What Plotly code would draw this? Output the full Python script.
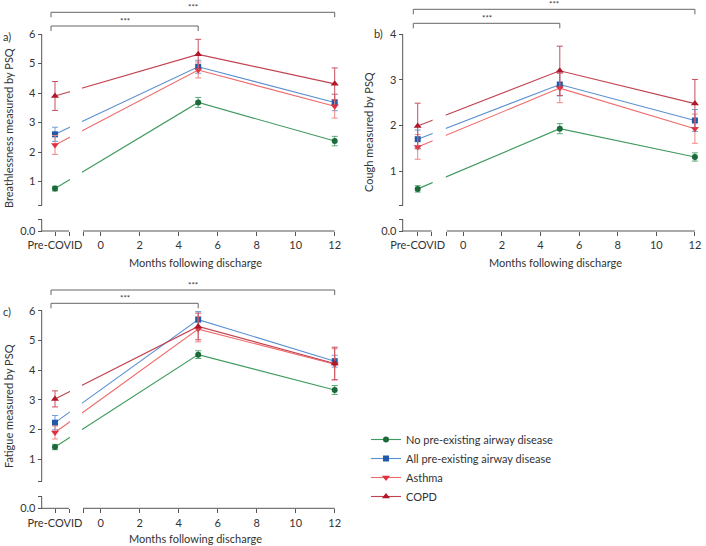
import plotly.graph_objects as go

W, H = 706, 546

# ---- data (mean +/- error) ----
groups = ["No pre-existing airway disease", "All pre-existing airway disease", "Asthma", "COPD"]
timepoints = ["Pre-COVID", 5, 12]

breath = {
    "No pre-existing airway disease": [0.76, 3.68, 2.37],
    "All pre-existing airway disease": [2.60, 4.89, 3.68],
    "Asthma": [2.24, 4.78, 3.55],
    "COPD": [3.90, 5.31, 4.31],
}
breath_err = {
    "No pre-existing airway disease": [0.08, 0.17, 0.16],
    "All pre-existing airway disease": [0.24, 0.22, 0.28],
    "Asthma": [0.32, 0.27, 0.40],
    "COPD": [0.49, 0.51, 0.54],
}
cough = {
    "No pre-existing airway disease": [0.61, 1.93, 1.31],
    "All pre-existing airway disease": [1.70, 2.90, 2.11],
    "Asthma": [1.53, 2.82, 1.93],
    "COPD": [1.99, 3.20, 2.48],
}
cough_err = {
    "No pre-existing airway disease": [0.07, 0.11, 0.09],
    "All pre-existing airway disease": [0.20, 0.25, 0.24],
    "Asthma": [0.27, 0.32, 0.32],
    "COPD": [0.50, 0.54, 0.53],
}
fatigue = {
    "No pre-existing airway disease": [1.41, 4.52, 3.33],
    "All pre-existing airway disease": [2.23, 5.70, 4.30],
    "Asthma": [1.90, 5.38, 4.20],
    "COPD": [3.03, 5.47, 4.22],
}
fatigue_err = {
    "No pre-existing airway disease": [0.09, 0.13, 0.15],
    "All pre-existing airway disease": [0.24, 0.27, 0.20],
    "Asthma": [0.22, 0.43, 0.52],
    "COPD": [0.27, 0.45, 0.55],
}

month_ticks = [0, 2, 4, 6, 8, 10, 12]

# ---- styles ----
style = {
    "No pre-existing airway disease": dict(mk="#1b6b3a", ln="#3f9a5e", er="#5aa878", sym="circle", size=6),
    "All pre-existing airway disease": dict(mk="#1f5ba8", ln="#5a8fd2", er="#6b9ed8", sym="square", size=6),
    "Asthma": dict(mk="#e0303f", ln="#f06a6a", er="#f08585", sym="triangle-down", size=7),
    "COPD": dict(mk="#b0182a", ln="#c24350", er="#c85060", sym="triangle-up", size=7),
}
AX = "#555555"
TXT = "#333333"
FONT = "Lato"


def xp(px):
    return px / W


def yp(py):
    return 1 - py / H


# pixel geometry of each panel
panels = [
    dict(name="a", data=breath, err=breath_err, title="Breathlessness measured by PSQ",
         x0=100.7, xs=19.5, pre_px=55, yaxis_px=41.7, pre_end=69, main_start=83, dom_x=(30, 345),
         yref=6, yref_px=34, ys=29.5, xaxis_px=231, ymain_px=205.3, ylow_px=219.3, dom_y=(240, 25),
         ymax=6, yt=[1, 2, 3, 4, 5, 6],
         br_out=12.3, br_in=26, br_l=51, label=(1, 37), ytitle=(8, 128), xtitle=(195, 262)),
    dict(name="b", data=cough, err=cough_err, title="Cough measured by PSQ",
         x0=463.3, xs=19.3, pre_px=417.7, yaxis_px=402.7, pre_end=431.7, main_start=446.7, dom_x=(390, 705),
         yref=4, yref_px=34.3, ys=45.6, xaxis_px=231, ymain_px=205.3, ylow_px=219.3, dom_y=(240, 25),
         ymax=4, yt=[1, 2, 3, 4],
         br_out=9.3, br_in=23.3, br_l=413.3, label=(372, 33), ytitle=(368, 132), xtitle=(555, 262)),
    dict(name="c", data=fatigue, err=fatigue_err, title="Fatigue measured by PSQ",
         x0=100.7, xs=19.5, pre_px=55, yaxis_px=41.7, pre_end=69, main_start=83, dom_x=(30, 345),
         yref=6, yref_px=310.7, ys=29.7, xaxis_px=508.3, ymain_px=481, ylow_px=496.7, dom_y=(517, 300),
         ymax=6, yt=[1, 2, 3, 4, 5, 6],
         br_out=290, br_in=303.3, br_l=51, label=(1, 311), ytitle=(8, 406), xtitle=(195, 538)),
]

fig = go.Figure()
shapes = []
annotations = []
layout = {}


def note(text, x, y, size=11, **kw):
    annotations.append(dict(text=text, x=xp(x), y=yp(y), xref="paper", yref="paper",
                            xanchor=kw.pop("xanchor", "center"), yanchor="middle",
                            showarrow=False, font=dict(size=size, color=TXT, family=FONT), **kw))


for i, p in enumerate(panels):
    sfx = "" if i == 0 else str(i + 1)
    xa, ya = "x" + sfx, "y" + sfx

    def mx(px, p=p):
        return (px - p["x0"]) / p["xs"]

    def vy(py, p=p):
        return p["yref"] - (py - p["yref_px"]) / p["ys"]

    pre_x = mx(p["pre_px"])
    xpos = [pre_x if t == "Pre-COVID" else t for t in timepoints]

    for g in groups:
        s = style[g]
        fig.add_trace(go.Scatter(
            x=xpos, y=p["data"][g], xaxis=xa, yaxis=ya,
            mode="lines+markers", name=g, showlegend=(i == 0),
            line=dict(color=s["ln"], width=1.1),
            marker=dict(symbol=s["sym"], size=s["size"], color=s["mk"]),
            error_y=dict(type="data", array=p["err"][g], color=s["er"], thickness=1, width=3),
            cliponaxis=False,
        ))

    y_axis_x = mx(p["yaxis_px"])
    x_axis_y = vy(p["xaxis_px"])
    y_main_lo = vy(p["ymain_px"])
    y_low_hi = vy(p["ylow_px"])
    pre_end = mx(p["pre_end"])
    main_start = mx(p["main_start"])

    layout["xaxis" + sfx] = dict(
        domain=[xp(p["dom_x"][0]), xp(p["dom_x"][1])],
        range=[mx(p["dom_x"][0]), mx(p["dom_x"][1])],
        anchor="free", position=yp(p["xaxis_px"]), automargin=False,
        showline=False, showgrid=False, zeroline=False,
        tickmode="array",
        tickvals=[pre_x, pre_end, main_start] + month_ticks,
        ticktext=["Pre-COVID", "", ""] + [str(t) for t in month_ticks],
        ticks="outside", ticklen=4, tickcolor=AX, tickwidth=1,
        tickfont=dict(size=11, color=TXT, family=FONT),
    )
    layout["yaxis" + sfx] = dict(
        domain=[yp(p["dom_y"][0]), yp(p["dom_y"][1])],
        range=[vy(p["dom_y"][0]), vy(p["dom_y"][1])],
        anchor="free", position=xp(p["yaxis_px"]), automargin=False,
        showline=False, showgrid=False, zeroline=False,
        tickmode="array",
        tickvals=[x_axis_y, y_low_hi, y_main_lo] + p["yt"],
        ticktext=["0.0", "", ""] + [str(t) for t in p["yt"]],
        ticks="outside", ticklen=4, tickcolor=AX, tickwidth=1,
        tickfont=dict(size=11, color=TXT, family=FONT),
    )

    # mask the lines in the x-axis break
    shapes.append(dict(type="rect", xref=xa, yref=ya, x0=pre_end + 0.05, x1=main_start - 0.05,
                       y0=y_main_lo, y1=p["ymax"], fillcolor="white", line=dict(width=0), layer="above"))
    # broken axis lines
    for (x0, y0, x1, y1) in [
        (y_axis_x, x_axis_y, pre_end, x_axis_y),
        (main_start, x_axis_y, 12, x_axis_y),
        (y_axis_x, x_axis_y, y_axis_x, y_low_hi),
        (y_axis_x, y_main_lo, y_axis_x, p["ymax"]),
    ]:
        shapes.append(dict(type="line", xref=xa, yref=ya, x0=x0, y0=y0, x1=x1, y1=y1,
                           line=dict(color=AX, width=1)))

    # significance brackets
    for yb, right_m in [(p["br_out"], 12), (p["br_in"], 5)]:
        xr = p["x0"] + right_m * p["xs"]
        xl = p["br_l"]
        shapes.append(dict(type="path", xref="paper", yref="paper",
                           path=f"M {xp(xl)} {yp(yb + 5)} L {xp(xl)} {yp(yb)} L {xp(xr)} {yp(yb)} L {xp(xr)} {yp(yb + 5)}",
                           line=dict(color="#666666", width=1)))
        note("***", (xl + xr) / 2, yb - 5, size=8)

    note(p["name"] + ")", p["label"][0], p["label"][1], xanchor="left")
    note(p["title"], p["ytitle"][0], p["ytitle"][1], textangle=-90)
    note("Months following discharge", p["xtitle"][0], p["xtitle"][1])

fig.update_layout(
    width=W, height=H,
    margin=dict(l=0, r=0, t=0, b=0, autoexpand=False),
    paper_bgcolor="white", plot_bgcolor="white",
    shapes=shapes, annotations=annotations,
    legend=dict(x=xp(366), y=yp(425), xanchor="left", yanchor="top",
                font=dict(size=11, color=TXT, family=FONT), itemwidth=30,
                tracegroupgap=0, bgcolor="rgba(0,0,0,0)"),
    **layout,
)

fig.write_html("out.html", config={"displayModeBar": False},
               post_script="document.body.style.margin='0';")
